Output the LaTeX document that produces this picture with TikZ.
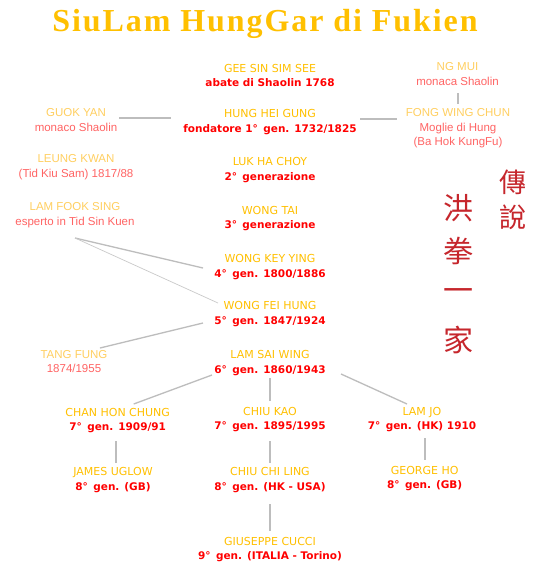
\documentclass[tikz,border=0pt]{standalone}
\usepackage{fontspec}
\usetikzlibrary{calc}
\newfontfamily\dvs{DejaVu Sans}
\newfontfamily\libs{Liberation Sans}
\newfontfamily\ttlfont[LetterSpace=6]{Liberation Serif}
\newfontfamily\cjk{Noto Sans CJK TC}
\definecolor{gold}{HTML}{FFC000}
\definecolor{mred}{HTML}{FF0000}
\definecolor{fgold}{HTML}{FFCF60}
\definecolor{fred}{HTML}{FF6464}
\definecolor{lgray}{HTML}{BDBDBD}
\definecolor{cjkred}{HTML}{C6262C}
\newcommand{\pname}[1]{{\color{gold}#1}}
\newcommand{\psub}[1]{{\color{mred}\bfseries\fontsize{10.5}{14.5}\selectfont #1}}
\newcommand{\fname}[1]{{\color{fgold}#1}}
\newcommand{\fsub}[1]{{\color{fred}#1}}
\newcommand{\dg}{°\,}
\tikzset{
  person/.style={align=center, inner sep=0pt, font={\dvs\fontsize{11}{14.5}\selectfont}},
  faded/.style={align=center, inner sep=0pt, font={\libs\fontsize{11.5}{14.5}\selectfont}},
  conn/.style={draw=lgray, line width=1.3pt},
  thinconn/.style={draw=lgray!80, line width=0.7pt},
  hanzi/.style={text=cjkred, inner sep=0pt, font={\cjk\fontsize{30}{30}\selectfont}},
  hanzismall/.style={text=cjkred, inner sep=0pt, font={\cjk\fontsize{27}{27}\selectfont}},
}
\begin{document}
\begin{tikzpicture}[x=1pt,y=-1pt]
\useasboundingbox (0,0) rectangle (539,582);
\fill[white] (0,0) rectangle (539,582);
\node[anchor=base, text=gold, font={\ttlfont\bfseries\fontsize{32}{32}\selectfont}] (title) at (265,31) {SiuLam HungGar di Fukien};

\node[person] (gss) at (270,75.5) {\pname{GEE SIN SIM SEE}\\\psub{abate di Shaolin 1768}};
\node[person] (hhg) at (270,122) {\pname{HUNG HEI GUNG}\\\psub{fondatore 1\dg{} gen. 1732/1825}};
\node[faded] (guok) at (76,120) {\fname{GUOK YAN}\\\fsub{monaco Shaolin}};
\node[faded] (leung) at (76,167) {\fname{LEUNG KWAN}\\\fsub{(Tid Kiu Sam) 1817/88}};
\node[faded] (lfs) at (75,215) {\fname{LAM FOOK SING}\\\fsub{esperto in Tid Sin Kuen}};
\node[faded] (ngmui) at (457.5,74) {\fname{NG MUI}\\\fsub{monaca Shaolin}};
\node[faded] (fwc) at (458,128.5) {\fname{FONG WING CHUN}\\\fsub{Moglie di Hung}\\\fsub{(Ba Hok KungFu)}};
\node[person] (lhc) at (270,170) {\pname{LUK HA CHOY}\\\psub{2\dg{} generazione}};
\node[person] (wt) at (270,218.5) {\pname{WONG TAI}\\\psub{3\dg{} generazione}};
\node[person] (wky) at (270,267) {\pname{WONG KEY YING}\\\psub{4\dg{} gen. 1800/1886}};
\node[person] (wfh) at (270,314) {\pname{WONG FEI HUNG}\\\psub{5\dg{} gen. 1847/1924}};
\node[faded] (tang) at (74,361.5) {\fname{TANG FUNG}\\\fsub{1874/1955}};
\node[person] (lsw) at (270,363) {\pname{LAM SAI WING}\\\psub{6\dg{} gen. 1860/1943}};
\node[person] (chc) at (117.7,420.5) {\pname{CHAN HON CHUNG}\\\psub{7\dg{} gen. 1909/91}};
\node[person] (ck) at (270,419.5) {\pname{CHIU KAO}\\\psub{7\dg{} gen. 1895/1995}};
\node[person] (lj) at (422,419.5) {\pname{LAM JO}\\\psub{7\dg{} gen. (HK) 1910}};
\node[person] (ju) at (113,480) {\pname{JAMES UGLOW}\\\psub{8\dg{} gen. (GB)}};
\node[person] (ccl) at (270,480) {\pname{CHIU CHI LING}\\\psub{8\dg{} gen. (HK - USA)}};
\node[person] (gh) at (424.7,478.5) {\pname{GEORGE HO}\\\psub{8\dg{} gen. (GB)}};
\node[person] (gc) at (270,549.5) {\pname{GIUSEPPE CUCCI}\\\psub{9\dg{} gen. (ITALIA - Torino)}};

\node[hanzismall] (c1) at (513,182) {傳};
\node[hanzismall] (c2) at (513,217) {說};
\node[hanzi] (c3) at (458,208) {洪};
\node[hanzi] (c4) at (458,251) {拳};
\node[hanzi] (c5) at (458,295) {一};
\node[hanzi] (c6) at (458,340) {家};

\draw[conn] ($(guok)+(43,-2)$) -- ($(hhg)+(-99,-4)$);
\draw[conn] ($(hhg)+(90,-3)$) -- ($(fwc)+(-61,-9.5)$);
\draw[conn] ($(ngmui)+(0.5,19)$) -- ($(fwc)+(0,-24.5)$);
\draw[conn] ($(lfs)+(0,23)$) -- ($(wky)+(-67,1)$);
\draw[thinconn] ($(lfs)+(0,23)$) -- ($(wfh)+(-52,-11)$);
\draw[conn] ($(tang)+(26,-13.5)$) -- ($(wfh)+(-67,9)$);
\draw[conn] ($(lsw)+(-58,12)$) -- ($(chc)+(16,-16.5)$);
\draw[conn] ($(lsw)+(0,15)$) -- ($(ck)+(0,-18.5)$);
\draw[conn] ($(lsw)+(71,11)$) -- ($(lj)+(-15,-15.5)$);
\draw[conn] ($(chc)+(-1.7,20.5)$) -- ($(ju)+(3,-17)$);
\draw[conn] ($(ck)+(0,21.5)$) -- ($(ccl)+(0,-17)$);
\draw[conn] ($(ccl)+(0,24)$) -- ($(gc)+(0,-18.5)$);
\draw[conn] ($(lj)+(3,18.5)$) -- ($(gh)+(0.3,-18.5)$);
\end{tikzpicture}
\end{document}
